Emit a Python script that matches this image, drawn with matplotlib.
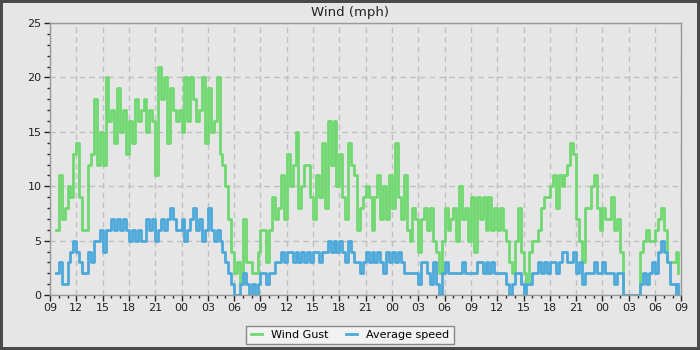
#!/usr/bin/env python3
import matplotlib
matplotlib.use('Agg')
import matplotlib.pyplot as plt
import matplotlib.dates as mdates
from matplotlib.ticker import MultipleLocator
import pandas as pd

# readings every 20 minutes, first one at 09:40
start = '2024-03-01 09:40'
step = '20min'

gust_mph = [
    6, 11, 7, 8, 10, 9, 13, 14, 9, 6, 6, 12, 13, 18, 12, 15, 12, 20, 16, 17,
    14, 19, 15, 17, 13, 16, 14, 18, 16,
    17, 18, 15, 17, 16, 11, 21, 18, 20, 14, 19, 17, 16, 17, 15, 20, 16, 20,
    18, 16, 17, 20, 14, 19, 15, 16, 20, 13, 12, 10, 7,
    4, 2, 3, 1, 7, 3, 3, 2, 2, 4, 6, 6, 3, 6, 9, 7, 8, 11, 7, 13, 10, 12, 15,
    8, 10, 12, 12, 9, 7, 11, 9,
    14, 8, 16, 12, 16, 10, 13, 9, 7, 14, 12, 11, 6, 8, 9, 10, 9, 6, 9, 11, 7,
    10, 7, 11, 8, 14, 9, 7, 11, 6, 5,
    8, 7, 4, 7, 8, 6, 8, 5, 4, 2, 5, 8, 6, 7, 8, 5, 10, 7, 8, 5, 9, 4, 9, 7,
    9, 6, 9, 6, 8, 6, 8,
    6, 5, 3, 2, 5, 8, 4, 2, 1, 4, 5, 5, 6, 8, 9, 9, 10, 11, 8, 11, 10, 11, 12,
    14, 13, 7, 5, 3, 8, 8, 10,
    11, 8, 6, 8, 7, 7, 9, 6, 7, 4, 0, 0, 0, 0, 0, 0, 4, 5, 6, 5, 5, 6, 7, 8,
    6, 3, 3, 3, 4, 2,
]

avg_mph = [
    2, 3, 1, 1, 3, 4, 5, 4, 3, 2, 2, 4, 3, 5, 5, 6, 4, 6, 6, 7, 6, 7, 6, 7,
    6, 5, 6, 5, 6,
    5, 5, 7, 6, 7, 5, 6, 7, 6, 7, 8, 7, 6, 6, 7, 5, 6, 7, 8, 6, 7, 5, 6, 8,
    6, 5, 6, 5, 4, 3, 2,
    1, 0, 0, 1, 2, 1, 0, 1, 0, 1, 2, 2, 1, 2, 2, 3, 3, 4, 3, 4, 4, 3, 4, 3,
    4, 3, 4, 3, 4, 4, 3,
    4, 4, 5, 4, 5, 4, 5, 4, 3, 5, 4, 3, 3, 2, 3, 4, 3, 4, 3, 4, 3, 2, 4, 3,
    4, 3, 4, 3, 2, 2, 2,
    2, 2, 1, 3, 3, 2, 1, 3, 1, 0, 2, 3, 2, 2, 2, 2, 2, 3, 2, 2, 2, 2, 3, 3,
    2, 3, 2, 3, 2, 2, 2,
    2, 1, 0, 1, 2, 2, 1, 0, 1, 1, 2, 2, 3, 2, 3, 2, 3, 3, 2, 3, 4, 4, 3, 3,
    4, 2, 3, 1, 2, 2, 2,
    3, 2, 2, 3, 2, 2, 2, 1, 2, 2, 0, 0, 0, 0, 0, 0, 1, 2, 1, 2, 3, 2, 4, 5,
    4, 3, 1, 1, 0, 1,
]

bg = '#e6e6e6'
green = '#70d870'
blue = '#4da9da'


def main():
    times = pd.date_range(start, periods=len(gust_mph), freq=step)

    fig = plt.figure(figsize=(7, 3.5), dpi=100, facecolor=bg)
    fig.patch.set_edgecolor('#4a4a4a')
    fig.patch.set_linewidth(3)
    ax = fig.add_axes([0.0714, 0.157, 0.902, 0.777], facecolor=bg)

    ax.step(times, gust_mph, where='post', color=green, lw=2.0,
            label='Wind Gust')
    ax.step(times, avg_mph, where='post', color=blue, lw=2.0,
            label='Average speed')

    t0 = pd.Timestamp('2024-03-01 09:00')
    ax.set_xlim(t0, t0 + pd.Timedelta(hours=72))
    ax.set_ylim(0, 25)

    ax.xaxis.set_major_locator(mdates.HourLocator(byhour=range(0, 24, 3)))
    ax.xaxis.set_minor_locator(mdates.HourLocator())
    ax.xaxis.set_major_formatter(mdates.DateFormatter('%H'))
    ax.yaxis.set_major_locator(MultipleLocator(5))
    ax.yaxis.set_minor_locator(MultipleLocator(1))

    ax.grid(True, which='major', color='#c0c0c0', linestyle=(0, (4, 3)),
            linewidth=1)
    ax.set_axisbelow(True)
    ax.tick_params(which='major', length=4, width=1, color='#222222',
                   labelsize=8, labelcolor='#222222', pad=2)
    ax.tick_params(which='minor', length=2.5, width=1, color='#222222')
    for sp in ax.spines.values():
        sp.set_color('#999999')
        sp.set_linewidth(1)

    fig.text(0.5, 0.965, 'Wind (mph)', ha='center', va='center',
             fontsize=9.5, color='#222222')

    fig.legend(loc='lower center', bbox_to_anchor=(0.5, 0.0), ncol=2,
               fontsize=8, frameon=True, fancybox=False,
               facecolor='#f2f2f2', edgecolor='#888888', framealpha=1,
               handlelength=1.0, handletextpad=0.8, columnspacing=1.6,
               borderpad=0.4)

    fig.savefig('out.png', dpi=100, facecolor=bg, edgecolor='#4a4a4a')


if __name__ == '__main__':
    main()
